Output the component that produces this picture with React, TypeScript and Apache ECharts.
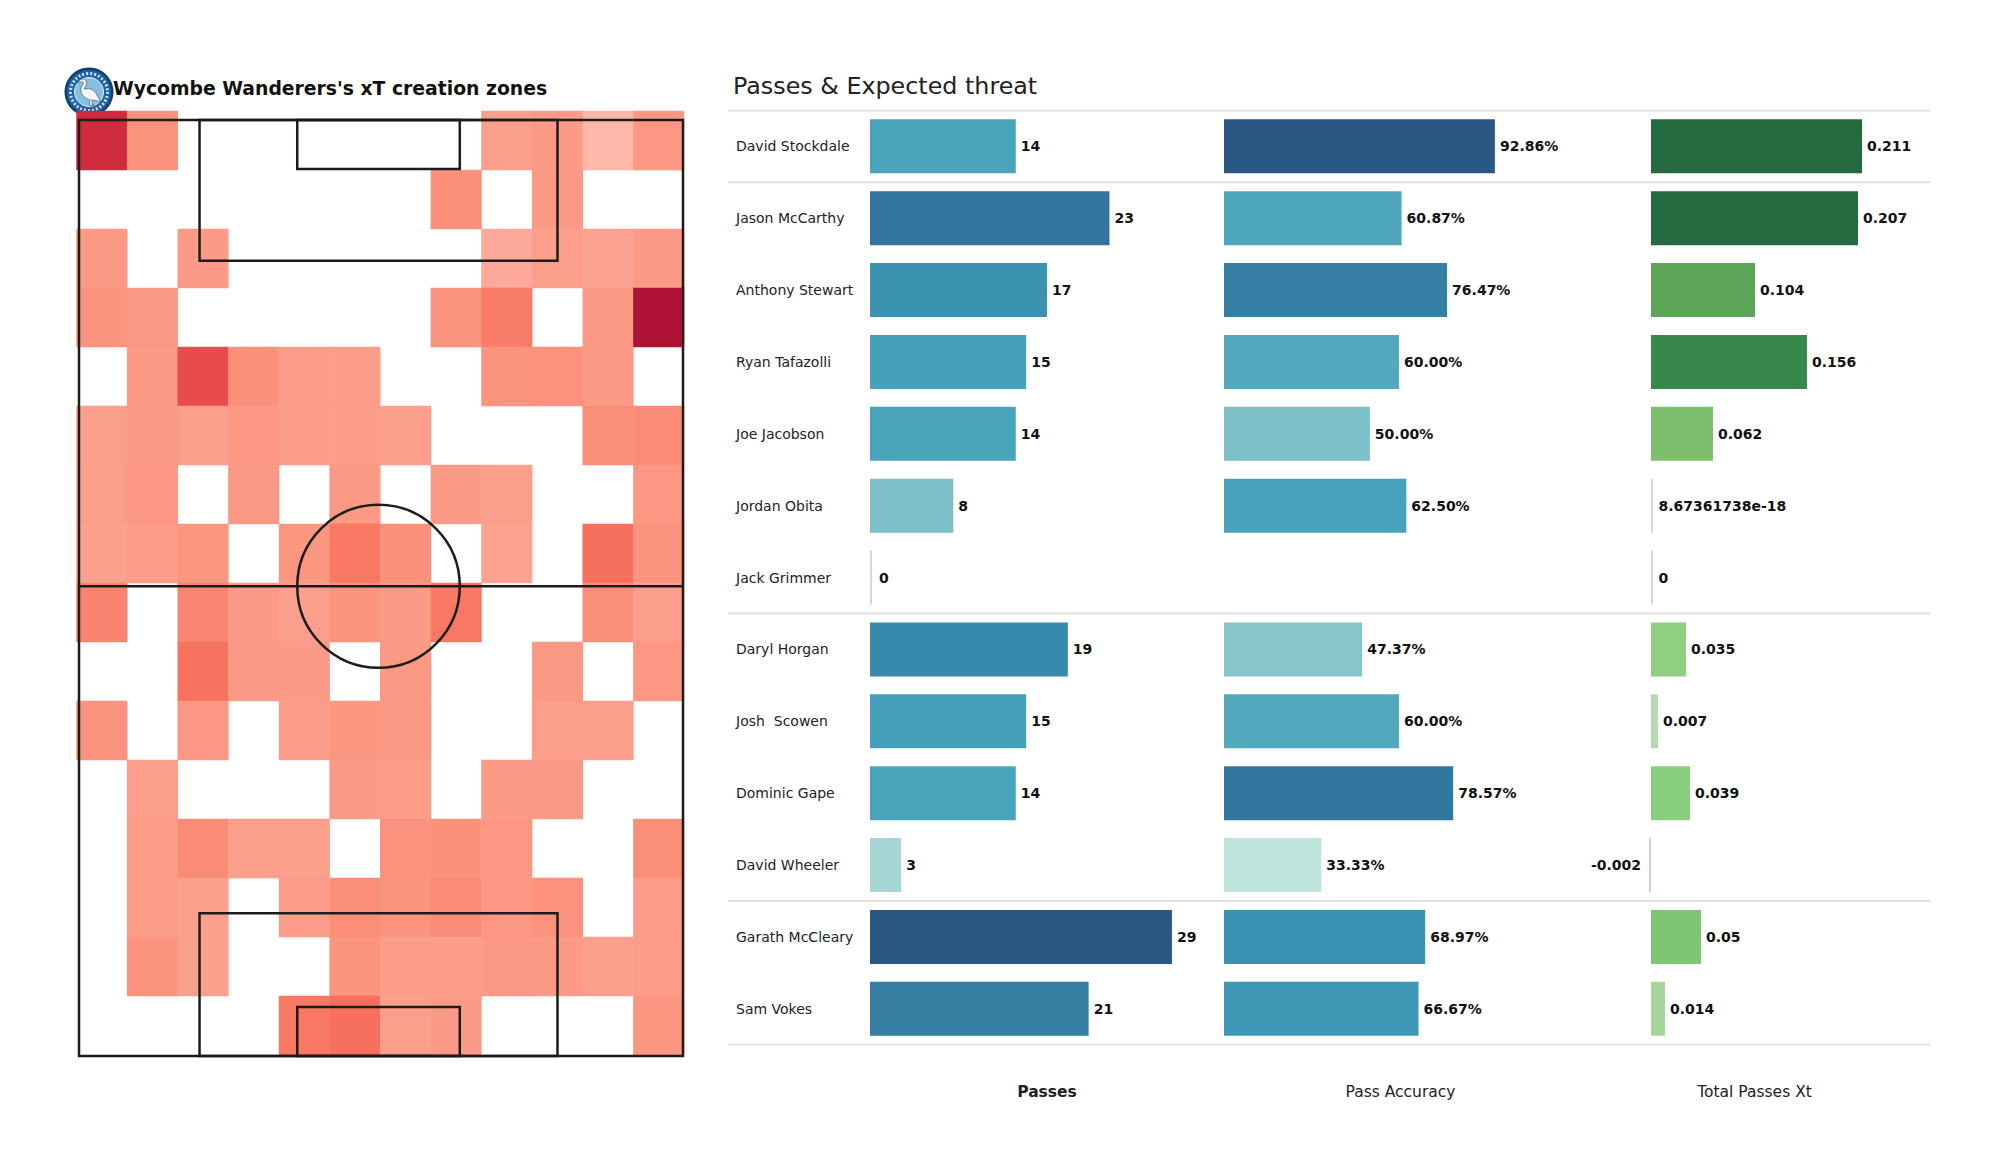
import React, { useEffect, useRef } from "react";
import * as echarts from "echarts";

const FONT = "DejaVu Sans";

// ---------- pitch heat map (xT intensity per zone, top row first; 0 = no zone) ----------
const heatColumns = ["c1", "c2", "c3", "c4", "c5", "c6", "c7", "c8", "c9", "c10", "c11", "c12"];
const heatRows = ["r1", "r2", "r3", "r4", "r5", "r6", "r7", "r8", "r9", "r10", "r11", "r12", "r13", "r14", "r15", "r16"];
const xtZones = [
  [80, 30, 0, 0, 0, 0, 0, 0, 24, 26, 12, 28],
  [0, 0, 0, 0, 0, 0, 0, 32, 0, 26, 0, 0],
  [27, 0, 26, 0, 0, 0, 0, 0, 18, 24, 22, 26],
  [30, 27, 0, 0, 0, 0, 0, 30, 42, 0, 27, 100],
  [0, 26, 65, 32, 25, 25, 0, 0, 30, 31, 27, 0],
  [23, 27, 24, 28, 25, 25, 24, 0, 0, 0, 33, 34],
  [24, 28, 0, 27, 0, 27, 0, 26, 24, 0, 0, 28],
  [23, 25, 29, 0, 29, 45, 32, 0, 22, 0, 50, 30],
  [38, 0, 37, 26, 24, 30, 26, 45, 0, 0, 33, 24],
  [0, 0, 48, 26, 26, 0, 27, 0, 0, 27, 0, 28],
  [30, 0, 28, 0, 25, 29, 27, 0, 0, 24, 24, 0],
  [0, 24, 0, 0, 0, 26, 25, 0, 26, 26, 0, 0],
  [0, 25, 34, 24, 24, 0, 31, 32, 28, 0, 0, 33],
  [0, 25, 23, 0, 25, 33, 30, 34, 28, 31, 0, 25],
  [0, 30, 23, 0, 0, 30, 25, 25, 27, 26, 24, 25],
  [0, 0, 0, 0, 45, 50, 24, 26, 0, 0, 0, 29],
];
const heatColors = ["#FEBBAD", "#FCA594", "#FB947F", "#F97F6A", "#F6705D", "#EF5750", "#E33F47", "#D02A3E", "#C01D39", "#AE1235"];

// ---------- pitch markings, in metres: [x0, y0, x1, y1] ----------
const pitchLength = 105;
const pitchWidth = 68;
const pitchRects = [
  [0, 0, 68, 105],
  [0, 52.3, 68, 52.3],
  [13.57, 0, 53.87, 15.8],
  [24.57, 0, 42.87, 5.5],
  [13.57, 89, 53.87, 105],
  [24.57, 99.5, 42.87, 105],
];
const centreCircle = [[33.72, 52.3, 9.15]];

// ---------- table ----------
const players = [
  "David Stockdale", "Jason McCarthy", "Anthony Stewart", "Ryan Tafazolli", "Joe Jacobson",
  "Jordan Obita", "Jack Grimmer", "Daryl Horgan", "Josh  Scowen", "Dominic Gape",
  "David Wheeler", "Garath McCleary", "Sam Vokes",
];
const passes = [14, 23, 17, 15, 14, 8, 0, 19, 15, 14, 3, 29, 21];
const passAccuracy = [92.86, 60.87, 76.47, 60.0, 50.0, 62.5, null, 47.37, 60.0, 78.57, 33.33, 68.97, 66.67];
const totalPassesXt = [0.211, 0.207, 0.104, 0.156, 0.062, 8.67361738e-18, 0, 0.035, 0.007, 0.039, -0.002, 0.05, 0.014];
const separatorRows = [0, 1, 7, 11, 13];
const columnTitles = ["Passes", "Pass Accuracy", "Total Passes Xt"];

const passStops: [number, string][] = [
  [0, "#D4D8D8"], [3, "#A5D6D3"], [8, "#7DBFC7"], [14, "#4AA4BC"], [15, "#45A0B9"],
  [17, "#3C92B1"], [19, "#378AAB"], [21, "#357FA2"], [23, "#33749C"], [29, "#2A5783"],
];
const accuracyStops: [number, string][] = [
  [33.33, "#BDE4DA"], [47.37, "#87C5CD"], [50, "#7CBFC8"], [60, "#52A8BC"], [60.87, "#4FA7BD"],
  [62.5, "#47A3BC"], [66.67, "#3F97B5"], [68.97, "#3B91B1"], [76.47, "#347EA3"], [78.57, "#32789E"], [92.86, "#2B5784"],
];
const xtStops: [number, string][] = [
  [-0.002, "#D0D6C5"], [0, "#D8D8D8"], [0.007, "#B7D9B1"], [0.014, "#A5D79A"], [0.035, "#8DD081"],
  [0.039, "#89CE7C"], [0.05, "#7FC672"], [0.062, "#7CC06E"], [0.104, "#5CA556"], [0.156, "#38884B"],
  [0.207, "#246B3F"], [0.211, "#246B3F"],
];

function stopColor(stops: [number, string][], v: number) {
  let best = stops[0];
  for (const s of stops) if (Math.abs(s[0] - v) < Math.abs(best[0] - v)) best = s;
  return best[1];
}

const swanPath =
  "M4 2 C7 0 10 1 11 4 C12 7 9 9 9 12 C12 10 17 11 21 16 C23 19 24 22 26 25 C22 24 20 24 17 23 L17 28 L19 28 L19 29 L14 29 L15 23 C10 22 5 18 5 12 C5 9 8 7 8 5 C7 3 5 4 2 5 Z";

export default function App() {
  const ref = useRef<HTMLDivElement>(null);
  useEffect(() => {
    echarts.graphic.registerShape("swan", echarts.graphic.extendPath(swanPath, {}) as any);

    const chart = echarts.init(ref.current!, undefined, { renderer: "svg" });

    const heatData: number[][] = [];
    xtZones.forEach((row, r) => row.forEach((v, c) => { if (v > 0) heatData.push([c, r, v]); }));

    const hiddenValueAxis = (gridIndex: number, min: number, max: number, name: string, bold: boolean) => ({
      type: "value", gridIndex, min, max,
      name, nameLocation: "middle", nameGap: 39,
      nameTextStyle: { fontFamily: FONT, fontSize: 15.5, fontWeight: bold ? "bold" : "normal", color: "#222" },
      axisLine: { show: false }, axisTick: { show: false }, axisLabel: { show: false }, splitLine: { show: false },
    });
    const barCategoryAxis = (gridIndex: number, showLabel: boolean) => ({
      type: "category", gridIndex, data: players, inverse: true,
      axisLine: { show: false }, axisTick: { show: false }, splitLine: { show: false },
      axisLabel: { show: showLabel, align: "left", margin: 134, fontFamily: FONT, fontSize: 14, color: "#222" },
    });
    const barSeries = (idx: number, values: (number | null)[], stops: [number, string][], distance: number, zeroDistance: number, fmt: (v: number) => string) => ({
      type: "bar", xAxisIndex: idx, yAxisIndex: idx, barWidth: 54, barMinHeight: 2,
      data: values.map((v) => ({
        value: v === null ? "-" : v,
        label: v !== null && v < 0 ? { position: "left", distance: 8 } : (v !== null && Math.abs(v) < 1e-9) ? { distance: zeroDistance } : undefined,
      })),
      itemStyle: { color: (p: any) => stopColor(stops, Number(p.value)) },
      label: {
        show: true, position: "right", distance,
        fontFamily: FONT, fontSize: 14, fontWeight: "bold", color: "#111",
        formatter: (p: any) => fmt(Number(p.value)),
      },
    });

    chart.setOption({
      animation: false,
      backgroundColor: "#fff",
      title: [
        { text: "Wycombe Wanderers's xT creation zones", left: 113, top: 79, padding: 0,
          textStyle: { fontFamily: FONT, fontSize: 18.8, fontWeight: "bold", color: "#111" } },
        { text: "Passes & Expected threat", left: 733, top: 74, padding: 0,
          textStyle: { fontFamily: FONT, fontSize: 23.8, fontWeight: "normal", color: "#222" } },
      ],
      grid: [
        { left: 76.5, top: 111, width: 607.5, height: 944 },
        { left: 79, top: 120, width: 604, height: 936 },
        { left: 870, top: 110.4, width: 354, height: 934.3 },
        { left: 1224, top: 110.4, width: 353, height: 934.3 },
        { left: 1601, top: 110.4, width: 307, height: 934.3 },
        { left: 728, top: 110.4, width: 1202, height: 934.3 },
      ],
      xAxis: [
        { type: "category", gridIndex: 0, data: heatColumns, show: false },
        { type: "value", gridIndex: 1, min: 0, max: pitchWidth, show: false },
        hiddenValueAxis(2, 0, 34, columnTitles[0], true),
        hiddenValueAxis(3, 0, 121, columnTitles[1], false),
        hiddenValueAxis(4, -0.05, 0.257, columnTitles[2], false),
        { type: "value", gridIndex: 5, min: 0, max: 1, show: false },
      ],
      yAxis: [
        { type: "category", gridIndex: 0, data: heatRows, inverse: true, show: false },
        { type: "value", gridIndex: 1, min: 0, max: pitchLength, inverse: true, show: false },
        barCategoryAxis(2, true),
        barCategoryAxis(3, false),
        barCategoryAxis(4, false),
        { type: "value", gridIndex: 5, min: 0, max: 13, inverse: true, show: false },
      ],
      visualMap: [{
        type: "continuous", show: false, seriesIndex: 0, dimension: 2, min: 10, max: 100,
        inRange: { color: heatColors },
      }],
      series: [
        { type: "heatmap", xAxisIndex: 0, yAxisIndex: 0, data: heatData, progressive: 0 },
        {
          type: "custom", xAxisIndex: 1, yAxisIndex: 1, z: 5, data: pitchRects,
          encode: { x: [0, 2], y: [1, 3] },
          renderItem: (_: any, api: any) => {
            const a = api.coord([api.value(0), api.value(1)]);
            const b = api.coord([api.value(2), api.value(3)]);
            return {
              type: "rect",
              shape: { x: a[0], y: a[1], width: b[0] - a[0], height: b[1] - a[1] },
              style: { fill: "none", stroke: "#1c1c1c", lineWidth: 2.5 },
            };
          },
        },
        {
          type: "custom", xAxisIndex: 1, yAxisIndex: 1, z: 5, data: centreCircle,
          encode: { x: 0, y: 1 },
          renderItem: (_: any, api: any) => {
            const c = api.coord([api.value(0), api.value(1)]);
            const s = api.size([api.value(2), api.value(2)]);
            return {
              type: "ellipse",
              shape: { cx: c[0], cy: c[1], rx: s[0], ry: s[1] },
              style: { fill: "none", stroke: "#1c1c1c", lineWidth: 2.5 },
            };
          },
        },
        barSeries(2, passes, passStops, 5, 7, (v) => String(v)),
        barSeries(3, passAccuracy, accuracyStops, 5, 5, (v) => v.toFixed(2) + "%"),
        barSeries(4, totalPassesXt, xtStops, 5, 5.5, (v) => String(v)),
        ...separatorRows.map((r) => ({
          type: "line", xAxisIndex: 5, yAxisIndex: 5, symbol: "none", silent: true,
          lineStyle: { color: "#E0E0E0", width: 2 },
          data: [[0, r], [1, r]],
        })),
      ],
      graphic: [
        {
          type: "group", z: 20,
          children: [
            { type: "circle", shape: { cx: 89, cy: 92, r: 24.5 }, style: { fill: "#12406F" } },
            { type: "circle", shape: { cx: 89, cy: 92, r: 22 }, style: { fill: "#1A62A3" } },
            { type: "circle", shape: { cx: 89, cy: 92, r: 18.5 }, style: { fill: "none", stroke: "#CFE0EE", lineWidth: 3, lineDash: [2, 2] } },
            { type: "circle", shape: { cx: 89, cy: 92, r: 14.5 }, style: { fill: "#86BFE0", stroke: "#E8F2F8", lineWidth: 1 } },
            { type: "swan", x: 76, y: 78, scaleX: 0.95, scaleY: 0.95, style: { fill: "#F4F6F8", stroke: "#33414F", lineWidth: 0.6 } },
          ],
        },
      ],
    } as any);
    return () => chart.dispose();
  }, []);
  return <div ref={ref} style={{ position: "absolute", left: 0, top: 0, width: 2000, height: 1175 }} />;
}
